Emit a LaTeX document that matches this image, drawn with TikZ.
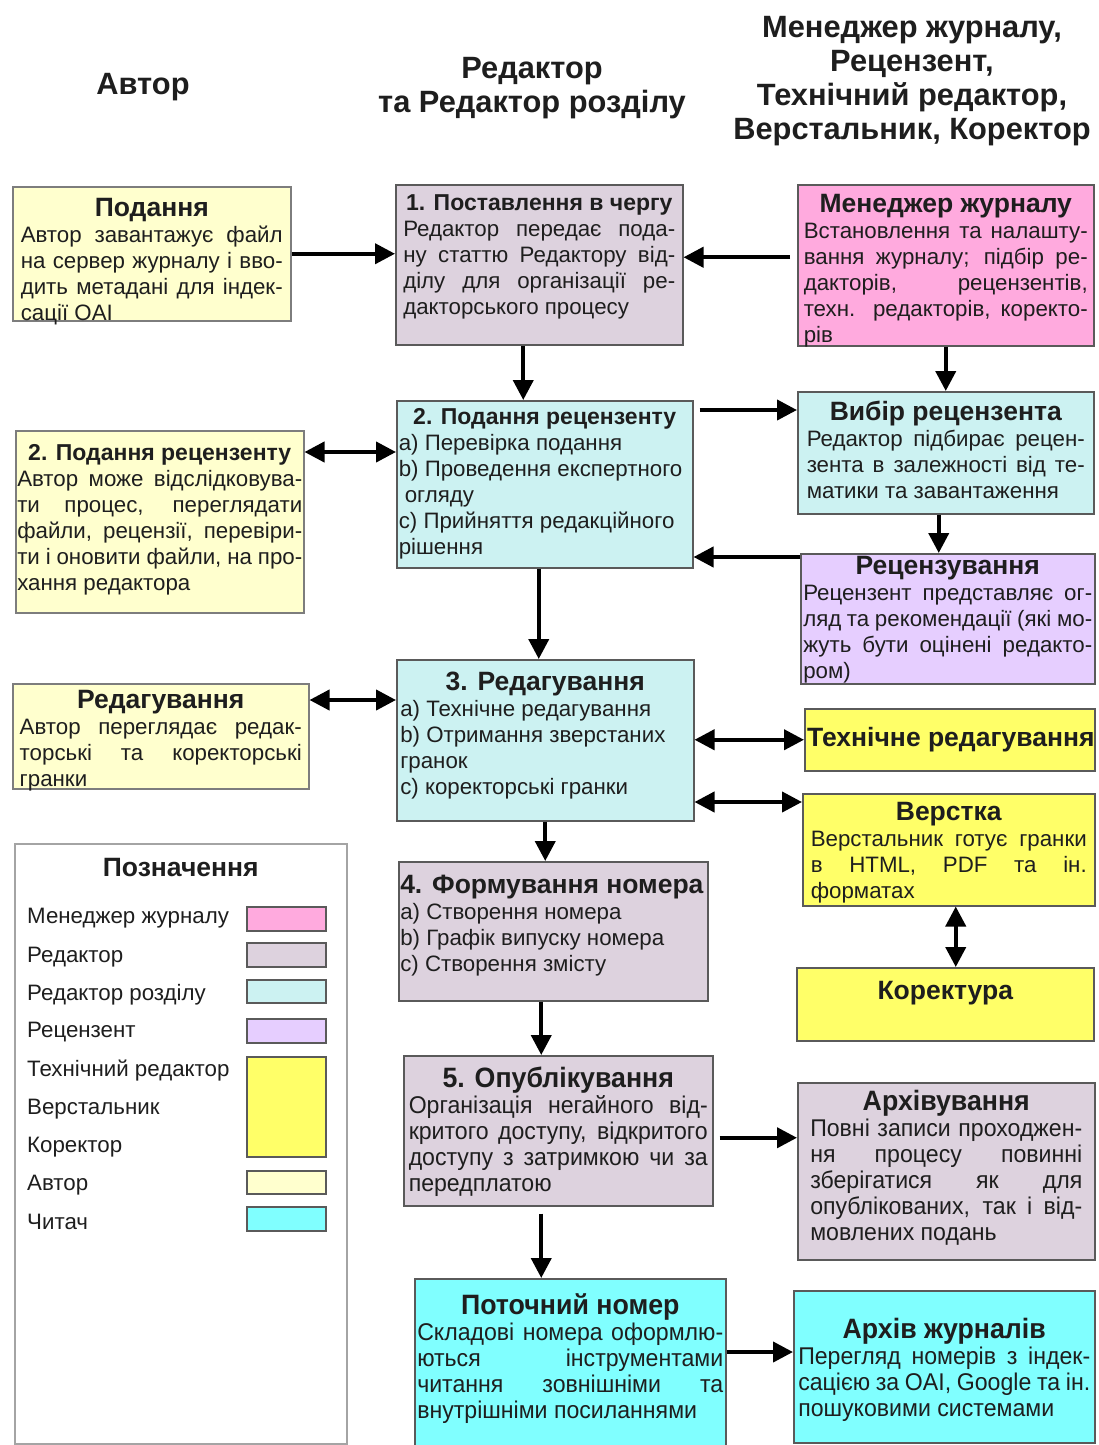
\documentclass[tikz,border=0pt]{standalone}
\usepackage{fontspec}
\setmainfont{Liberation Sans}
\newfontfamily\narrowfont[FakeStretch=0.955]{Liberation Sans}
\usepackage{tikz}
\usetikzlibrary{arrows.meta}

\newcommand\bodyfont{\fontsize{22.3}{26}\selectfont}
\newcommand\nbodyfont{\fontsize{24.2}{26}\selectfont\narrowfont}
\newcommand\ttlfont{\fontsize{26.5}{30}\selectfont\bfseries}
\newcommand\sttlfont{\fontsize{23}{27}\selectfont\bfseries}
\newcommand\nttlfont{\fontsize{28}{30}\selectfont\narrowfont\bfseries}
\newcommand\ttl[1]{{\centering\ttlfont #1\par}}

\begin{document}
\begin{tikzpicture}[x=1pt,y=-1pt,line cap=rect]
				\definecolor{col_author}{RGB}{255, 255, 206}
				\definecolor{col_editor}{RGB}{221, 210, 222}
				\definecolor{col_section}{RGB}{204, 242, 242}
				\definecolor{col_manager}{RGB}{255, 170, 222}
				\definecolor{col_reviewer}{RGB}{230, 206, 255}
				\definecolor{col_tech}{RGB}{255, 255, 104}
				\definecolor{col_reader}{RGB}{128, 255, 255}
				\definecolor{col_line}{RGB}{90, 90, 90}
				\definecolor{col_autline}{RGB}{125, 125, 125}
				\definecolor{col_text}{RGB}{30, 30, 30}
				\tikzset{
					box/.style={draw=col_line, line width=1.5pt, anchor=north west, inner sep=0pt},
					autbox/.style={box, draw=col_autline, fill=col_author},
					txt/.style={anchor=north, inner sep=0pt, align=justify, text=col_text, font=\bodyfont},
					hdr/.style={inner sep=0pt, align=center, text=col_text, font=\fontsize{30.8}{34}\selectfont\bfseries},
					legtxt/.style={anchor=west, inner sep=0pt, text=col_text, font=\bodyfont},
					swatch/.style={draw=col_line, line width=1.5pt, anchor=north west, inner sep=0pt, minimum width=79pt},
					arr/.style={line width=4pt, line cap=butt, -{Triangle[length=20pt,width=20pt]}},
					darr/.style={line width=4pt, line cap=butt, {Triangle[length=20pt,width=20pt]}-{Triangle[length=20pt,width=20pt]}}
				}
				\tolerance=10000
				\fill [white] (0,0) rectangle (1099,1445);
				\useasboundingbox (0,0) rectangle (1099,1445);
				% column headers
				\node [hdr] (hauthor) at (143,87) {Автор};
				\node [hdr] (heditor) at (532,88) {Редактор\\та Редактор розділу};
				\node [hdr] (hother) at (912,81) {Менеджер журналу,\\Рецензент,\\Технічний редактор,\\Верстальник, Коректор};
				% author column
				\node [autbox, minimum width=278pt, minimum height=134pt] (au1) at (12,186) {};
				\node [txt, text width=262pt] (au1t) at ([yshift=-12.5pt]au1.north) {\ttl{Подання}Автор завантажує файл\linebreak на сервер журналу і вво-\linebreak дить метадані для індек-\linebreak сації OAI};
				\node [autbox, minimum width=288pt, minimum height=182pt] (au2) at (15,430) {};
				\node [txt, text width=285pt] (au2t) at ([yshift=-14pt]au2.north) {{\centering\sttlfont 2. Подання рецензенту\par}Автор може відслідковува-\linebreak ти процес, переглядати\linebreak файли, рецензії, перевіри-\linebreak ти і оновити файли, на про-\linebreak хання редактора};
				\node [autbox, minimum width=296pt, minimum height=105pt] (au3) at (12,683) {};
				\node [txt, text width=282pt] (au3t) at ([yshift=-7.5pt]au3.north) {\ttl{Редагування}Автор переглядає редак-\linebreak торські та коректорські\linebreak гранки};
				% legend
				\node [box, draw=col_autline!70, fill=white, minimum width=332pt, minimum height=600pt] (leg) at (14,843) {};
				\node [inner sep=0pt, text=col_text, font=\ttlfont] (legt) at ([yshift=-25pt]leg.north) {Позначення};
				\foreach \yy/\lbl [count=\i] in {918/Менеджер журналу, 957/Редактор, 995/Редактор розділу, 1032/Рецензент, 1071/Технічний редактор, 1109/Верстальник, 1147/Коректор, 1185/Автор, 1222/Читач}
					\node [legtxt] (li\i) at (27,\yy) {\lbl};
				\foreach \yy/\hh/\cc [count=\i] in {906/24/col_manager, 942/24/col_editor, 979/23/col_section, 1018/24/col_reviewer, 1056/100/col_tech, 1170/23/col_author, 1206/24/col_reader}
					\node [swatch, fill=\cc, minimum height=\hh pt] (sw\i) at (246,\yy) {};
				% editor column
				\node [box, fill=col_editor, minimum width=287pt, minimum height=160pt] (q1) at (395,184) {};
				\node [txt, text width=272pt] (q1t) at ([yshift=-10pt]q1.north) {{\centering\sttlfont 1. Поставлення в чергу\par}Редактор передає пода-\linebreak ну статтю Редактору від-\linebreak ділу для організації ре-\linebreak дакторського процесу};
				\node [box, fill=col_section, minimum width=296pt, minimum height=167pt] (q2) at (396,400) {};
				\node [txt, text width=292pt] (q2t) at ([yshift=-8pt]q2.north) {{\centering\sttlfont 2. Подання рецензенту\par}a) Перевірка подання\\b) Проведення експертного\\\hspace*{6pt}огляду\\c) Прийняття редакційного\\рішення};
				\node [box, fill=col_section, minimum width=297pt, minimum height=161pt] (q3) at (396,659) {};
				\node [txt, text width=290pt] (q3t) at ([yshift=-12.5pt]q3.north) {\ttl{3. Редагування}a) Технічне редагування\\b) Отримання зверстаних\\гранок\\c) коректорські гранки};
				\node [box, fill=col_editor, minimum width=309pt, minimum height=139pt] (q4) at (398,861) {};
				\node [txt, text width=306pt] (q4t) at ([yshift=-13.5pt]q4.north) {{\ttlfont 4. Формування номера\par}a) Створення номера\\b) Графік випуску номера\\c) Створення змісту};
				\node [box, fill=col_editor, minimum width=309pt, minimum height=150pt] (q5) at (403,1055) {};
				\node [txt, text width=299pt, font=\nbodyfont] (q5t) at ([yshift=-12pt]q5.north) {{\centering\nttlfont 5. Опублікування\par}Організація негайного від-\linebreak критого доступу, відкритого\linebreak доступу з затримкою чи за\linebreak передплатою};
				\node [box, fill=col_reader, minimum width=311pt, minimum height=170pt] (cur) at (414,1278) {};
				\node [txt, text width=306pt, font=\nbodyfont] (curt) at ([yshift=-15pt]cur.north) {{\centering\nttlfont Поточний номер\par}Складові номера оформлю-\linebreak ються інструментами\linebreak читання зовнішніми та\linebreak внутрішніми посиланнями};
				% right column
				\node [box, fill=col_manager, minimum width=296pt, minimum height=161pt] (mgr) at (797,184) {};
				\node [txt, text width=284pt] (mgrt) at ([yshift=-10.5pt]mgr.north) {\ttl{Менеджер журналу}Встановлення та налашту-\linebreak вання журналу; підбір ре-\linebreak дакторів, рецензентів,\linebreak техн. редакторів, коректо-\linebreak рів};
				\node [box, fill=col_section, minimum width=296pt, minimum height=122pt] (rev) at (797,391) {};
				\node [txt, text width=278pt] (revt) at ([yshift=-9.5pt]rev.north) {\ttl{Вибір рецензента}Редактор підбирає рецен-\linebreak зента в залежності від те-\linebreak матики та завантаження};
				\node [box, fill=col_reviewer, minimum width=294pt, minimum height=130pt] (rvw) at (800,553) {};
				\node [txt, text width=289pt] (rvwt) at ([yshift=-3.5pt]rvw.north) {\ttl{Рецензування}Рецензент представляє ог-\linebreak ляд та рекомендації (які мо-\linebreak жуть бути оцінені редакто-\linebreak ром)};
				\node [box, fill=col_tech, minimum width=290pt, minimum height=62pt] (ted) at (804,708) {};
				\node [anchor=west, inner sep=0pt, text=col_text, font=\ttlfont] (tedt) at ([xshift=3pt]ted.west) {Технічне редагування};
				\node [box, fill=col_tech, minimum width=292pt, minimum height=112pt] (ver) at (802,793) {};
				\node [txt, text width=276pt] (vert) at ([yshift=-9.5pt]ver.north) {\ttl{Верстка}Верстальник готує гранки\linebreak в HTML, PDF та ін.\linebreak форматах};
				\node [box, fill=col_tech, minimum width=297pt, minimum height=73pt] (kor) at (796,967) {};
				\node [inner sep=0pt, text=col_text, font=\ttlfont] (kort) at ([yshift=-26pt]kor.north) {Коректура};
				\node [box, fill=col_editor, minimum width=297pt, minimum height=177pt] (arc) at (797,1082) {};
				\node [txt, text width=272pt, font=\nbodyfont] (arct) at ([yshift=-8pt]arc.north) {{\centering\nttlfont Архівування\par}Повні записи проходжен-\linebreak ня процесу повинні\linebreak зберігатися як для\linebreak опублікованих, так і від-\linebreak мовлених подань};
				\node [box, fill=col_reader, minimum width=301pt, minimum height=152pt] (arj) at (793,1290) {};
				\node [txt, text width=292pt, font=\nbodyfont] (arjt) at ([yshift=-28pt]arj.north) {{\centering\nttlfont Архів журналів\par}Перегляд номерів з індек-\linebreak сацією за OAI, Google та ін.\linebreak пошуковими системами};
				% connectors
				\draw [arr] (au1.east) -- (au1.east -| q1.west);
				\draw [arr] ([xshift=-7pt,yshift=8pt]mgr.west) -- ([yshift=8pt]mgr.west -| q1.east);
				\draw [arr] ([xshift=-16pt]q1.south) -- ([xshift=-16pt]q1.south |- q2.north);
				\draw [arr] (mgr.south) -- (mgr.south |- rev.north);
				\draw [arr] ([xshift=6pt,yshift=-10pt]q2.north east) -- ([yshift=-10pt]q2.north east -| rev.west);
				\draw [arr] ([xshift=-7pt]rev.south) -- ([xshift=-7pt]rev.south |- rvw.north);
				\draw [arr] ([yshift=-4pt]rvw.north west) -- ([yshift=-4pt]rvw.north west -| q2.east);
				\draw [darr] ([yshift=-22pt]au2.north east) -- ([yshift=-22pt]au2.north east -| q2.west);
				\draw [arr] ([xshift=-6pt]q2.south) -- ([xshift=-6pt]q2.south |- q3.north);
				\draw [darr] ([yshift=-17pt]au3.north east) -- ([yshift=-17pt]au3.north east -| q3.west);
				\draw [darr] (ted.west -| q3.east) -- (ted.west);
				\draw [darr] ([yshift=-9pt]ver.north west -| q3.east) -- ([yshift=-9pt]ver.north west);
				\draw [arr] (q3.south) -- (q3.south |- q4.north);
				\draw [darr] ([xshift=7pt]ver.south) -- ([xshift=7pt]ver.south |- kor.north);
				\draw [arr] ([xshift=-12pt]q4.south) -- ([xshift=-12pt]q4.south |- q5.north);
				\draw [arr] ([xshift=6pt,yshift=-7pt]q5.east) -- ([yshift=-7pt]q5.east -| arc.west);
				\draw [arr] ([xshift=-17pt,yshift=-7pt]q5.south) -- ([xshift=-17pt]q5.south |- cur.north);
				\draw [arr] ([yshift=-74pt]cur.north east) -- ([yshift=-74pt]cur.north east -| arj.west);
			\end{tikzpicture}
\end{document}
